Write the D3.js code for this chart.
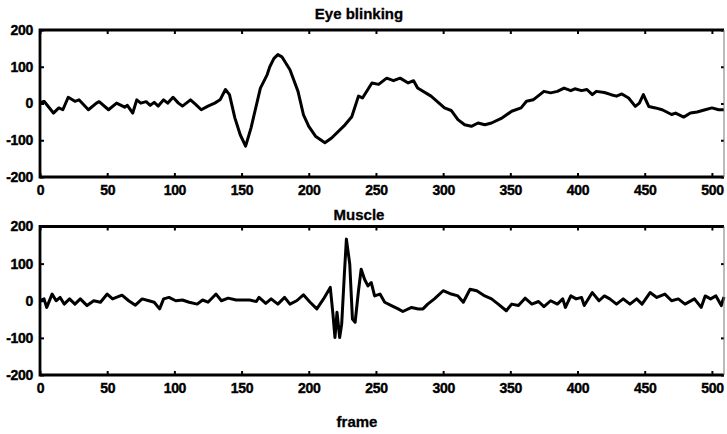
<!DOCTYPE html>
<html>
<head>
<meta charset="utf-8">
<script src="https://cdn.jsdelivr.net/npm/d3@7"></script>
<style>
  body { margin: 0; background: #fff; }
  svg { display: block; }
  .tick text { font-family: "Liberation Sans", Arial, sans-serif; font-weight: bold; font-size: 14px; fill: #000; stroke: #000; stroke-width: 0.4px; letter-spacing: -0.3px; }
  .title { font-family: "Liberation Sans", Arial, sans-serif; font-weight: bold; font-size: 15px; stroke: #000; stroke-width: 0.3px; }
</style>
</head>
<body>
<div id="chart"></div>
<script>
// Eye blinking trace (frame, amplitude)
var blinkFrame = [0, 3, 10, 14, 17, 21, 26, 29, 36, 42, 44, 51, 57, 63, 65, 69, 72, 75, 79, 82, 85, 88, 92, 95, 99,
  103, 106, 112, 116, 120, 125, 130, 134, 138, 141, 145, 149, 153, 157, 164, 169, 171, 174, 177, 180, 186,
  192, 196, 200, 205, 212, 217, 227, 232, 237, 240, 247, 252, 258, 263, 268, 274, 278, 281, 291, 301, 306,
  311, 316, 321, 326, 331, 336, 344, 351, 358, 362, 367, 375, 380, 385, 390, 395, 398, 403, 407, 411, 414,
  420, 425, 429, 433, 438, 443, 446, 449, 453, 458, 463, 470, 473, 479, 484, 489, 495, 500, 505, 509];
var blinkAmp = [2, 6, -26, -12, -17, 17, 6, 10, -17, 1, 5, -17, 1, -10, -5, -26, 10, 1, 5, -5, 3, -7, 10, 1, 17,
  1, -7, 10, -3, -17, -7, 1, 10, 38, 24, -39, -85, -116, -67, 42, 78, 100, 122, 133, 127, 92,
  33, -30, -62, -89, -107, -94, -58, -36, 20, 15, 56, 52, 69, 62, 69, 56, 62, 42, 20, -12, -19,
  -44, -58, -62, -53, -58, -53, -39, -21, -12, 6, 10, 33, 29, 33, 42, 35, 40, 35, 38, 24, 33,
  30, 24, 20, 26, 15, -8, 1, 24, -8, -12, -17, -30, -26, -37, -26, -23, -17, -12, -17, -17];

// Muscle trace (frame, amplitude)
var muscleFrame = [0, 3, 5, 9, 12, 15, 18, 22, 26, 30, 35, 40, 45, 50, 54, 61, 66, 71, 76, 81, 85, 89, 92, 96,
  101, 106, 111, 117, 121, 125, 131, 135, 140, 146, 156, 161, 163, 168, 172, 177, 182, 186, 191, 196, 201,
  206, 211, 216, 218, 219.5, 221, 223, 224.5, 226.5, 228, 230.5, 232.5, 234.5, 237, 239, 241.5, 244, 246.5,
  249, 253, 256.5, 261.5, 266.5, 270, 276.5, 281.5, 285, 288.5, 293.5, 300, 306, 311, 315, 320, 325, 331,
  336, 341, 347, 351, 356, 361, 366, 371, 375, 380, 385, 389, 391, 395, 399, 403, 405, 411, 416, 420, 424,
  429, 434, 439, 444, 448, 454, 459, 465, 470, 475, 480, 487, 492, 495, 499, 503, 507, 509];
var muscleAmp = [0, 5, -18, 18, 0, 9, -9, 5, -9, 5, -13, 0, -4, 18, 5, 15, 0, -12, 5, 0, -4, -22, 5, 9,
  0, 2, -4, -9, 2, -4, 18, 0, 7, 2, 2, -2, 9, -7, 5, -9, 9, -9, 0, 16, -4,
  -22, 5, 36, -36, -99, -31, -99, -63, 72, 166, 99, -49, -58, 27, 85, 58, 40, 49,
  13, 18, -4, -13, -22, -29, -18, -22, -22, -9, 5, 27, 18, 13, -4, 31, 27, 13,
  5, -9, -27, -9, -13, 7, -9, -2, -16, 0, -9, 5, -18, 13, 5, 9, -13, 22, 0, 13, 5,
  -9, 5, -9, 5, -9, 22, 9, 18, 0, 5, -9, 5, -18, 13, 5, 13, -13, 10];

var xTicks = [0, 50, 100, 150, 200, 250, 300, 350, 400, 450, 500];
var yTicks = [-200, -100, 0, 100, 200];
var panelTitles = ["Eye blinking", "Muscle"];

var width = 727, height = 434;
var left = 40, right = 724;
var panels = [
  { top: 30, bottom: 177, frame: blinkFrame, amp: blinkAmp, title: panelTitles[0], titleY: 14 },
  { top: 226.5, bottom: 375, frame: muscleFrame, amp: muscleAmp, title: panelTitles[1], titleY: 215 }
];

var svg = d3.select("#chart").append("svg")
  .attr("width", width)
  .attr("height", height);

var x = d3.scaleLinear().domain([0, 509]).range([left, right]);

panels.forEach(function(p, i) {
  var y = d3.scaleLinear().domain([-200, 200]).range([p.bottom, p.top]);
  var g = svg.append("g");

  // Line
  var line = d3.line()
    .x(function(d) { return x(d[0]); })
    .y(function(d) { return y(d[1]); });
  var pts = p.frame.map(function(f, k) { return [f, p.amp[k]]; });
  g.append("path")
    .datum(pts)
    .attr("fill", "none")
    .attr("stroke", "#000")
    .attr("stroke-width", 3)
    .attr("stroke-linejoin", "round")
    .attr("d", line);

  // Axes, ticks pointing inward
  var fmt = function(d) { return String(d); };
  g.append("g")
    .attr("transform", "translate(0," + p.bottom + ")")
    .call(d3.axisBottom(x).tickValues(xTicks).tickSizeInner(-4).tickSizeOuter(0).tickPadding(8).tickFormat(fmt));
  g.append("g")
    .attr("transform", "translate(0," + p.top + ")")
    .call(d3.axisTop(x).tickValues(xTicks).tickSizeInner(-4).tickSizeOuter(0).tickFormat(""));
  g.append("g")
    .attr("transform", "translate(" + left + ",0)")
    .call(d3.axisLeft(y).tickValues(yTicks).tickSizeInner(-4).tickSizeOuter(0).tickPadding(7).tickFormat(fmt));
  g.append("g")
    .attr("transform", "translate(" + right + ",0)")
    .call(d3.axisRight(y).tickValues(yTicks).tickSizeInner(-3).tickSizeOuter(0).tickFormat(""));

  g.selectAll(".domain").remove();
  g.selectAll(".tick line").attr("stroke", "#000").attr("stroke-width", 2);

  // Frame box
  g.append("path")
    .attr("d", "M" + right + "," + p.top + "H" + left + "V" + p.bottom + "H" + right)
    .attr("fill", "none").attr("stroke", "#000").attr("stroke-width", 2.8);
  g.append("line")
    .attr("x1", right).attr("x2", right).attr("y1", p.top).attr("y2", p.bottom)
    .attr("stroke", "#777").attr("stroke-width", 1);

  svg.append("text")
    .attr("class", "title")
    .attr("x", 359).attr("y", p.titleY + 5)
    .attr("text-anchor", "middle")
    .text(p.title);
});

svg.append("text")
  .attr("class", "title")
  .attr("x", 357).attr("y", 427)
  .attr("text-anchor", "middle")
  .text("frame");
</script>
</body>
</html>
